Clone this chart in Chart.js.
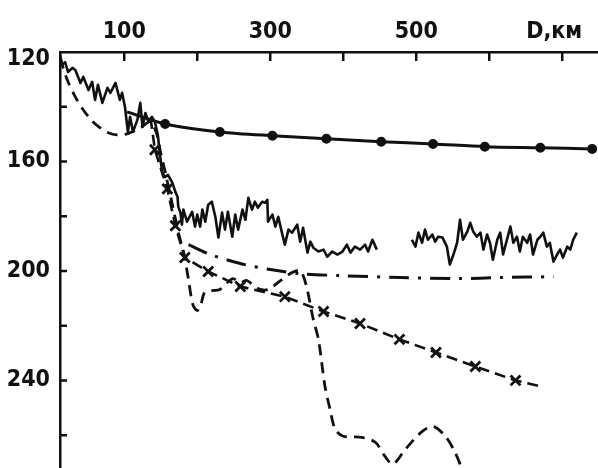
<!DOCTYPE html>
<html>
<head>
<meta charset="utf-8">
<script src="https://cdn.jsdelivr.net/npm/chart.js@4.4.0/dist/chart.umd.min.js"></script>
<style>
    html, body { margin: 0; padding: 0; background: #fff; }
    #grafica { display: block; }
</style>
</head>
<body>
<canvas id="grafica" width="598" height="468"></canvas>
<script>
const ticksD = [100, 200, 300, 400, 500, 600, 700];
const etiquetasD = [100, 300, 500];
const ticksV = [120, 140, 160, 180, 200, 220, 240, 260];
const etiquetasV = [120, 160, 200, 240];
const tituloD = 'D,км';

// curva suave con puntos
const suaveD = [104, 156, 231, 303, 377, 452, 523, 594, 670, 741];
const suaveV = [141.9, 146.3, 149.2, 150.6, 151.7, 152.8, 153.6, 154.6, 155.0, 155.4];

// registro ruidoso, primer tramo
const ruido1D = [12, 15, 19, 23, 29, 33, 40, 44, 51, 56, 60, 64, 70, 77, 81, 88, 94, 97, 101, 105,
    108, 112, 118, 122, 125, 129, 133, 138, 142, 146, 149, 152, 156, 160, 166, 170, 173, 174, 177, 179,
    181, 186, 193, 197, 200, 204, 207, 211, 215, 220, 225, 229, 234, 238, 242, 248, 252, 256, 262, 266,
    270, 275, 279, 283, 289, 293, 296, 297, 303, 307, 311, 316, 320, 325, 330, 337, 341, 345, 351, 355,
    359, 366, 373, 378, 385, 392, 399, 405, 410, 416, 423, 430, 434, 440, 446];
const ruido1V = [121.1, 124.7, 123.7, 127.3, 125.8, 126.6, 131.3, 129.1, 133.9, 130.9, 137.5, 132.0, 138.6, 133.1, 134.9, 131.3, 137.5, 134.9, 140.1, 149.2,
    143.7, 149.2, 144.8, 138.6, 147.4, 142.3, 145.5, 143.7, 145.5, 150.3, 157.6, 164.1, 165.6, 164.9, 167.8, 171.1, 172.9, 176.5, 178.7, 183.1,
    177.6, 182.0, 178.4, 183.8, 179.4, 183.8, 177.6, 182.0, 175.8, 174.7, 180.5, 187.8, 178.7, 184.9, 178.4, 187.5, 179.4, 184.9, 177.6, 181.3,
    173.3, 177.6, 174.7, 176.9, 174.7, 175.1, 174.0, 182.0, 179.4, 183.8, 180.2, 186.0, 190.4, 184.9, 186.0, 183.1, 189.3, 184.2, 193.3, 189.3,
    191.5, 192.9, 192.2, 194.8, 192.9, 194.0, 192.9, 190.4, 193.3, 191.1, 192.2, 190.4, 192.9, 188.6, 192.2];

// registro ruidoso, segundo tramo
const ruido2D = [494, 499, 503, 508, 512, 516, 522, 526, 530, 536, 542, 546, 551, 556, 560, 564, 570, 574, 578, 583,
    588, 592, 597, 601, 605, 611, 615, 619, 625, 629, 633, 638, 642, 646, 652, 656, 660, 666, 670, 674,
    679, 683, 688, 693, 697, 701, 707, 711, 715, 720];
const ruido2V = [188.6, 191.1, 186.0, 189.7, 184.9, 188.6, 186.7, 189.3, 187.5, 187.8, 191.1, 197.7, 194.0, 189.7, 181.3, 188.6, 185.6, 182.4, 185.6, 187.5,
    186.0, 192.2, 186.7, 189.7, 195.9, 188.6, 186.0, 194.0, 187.8, 183.8, 189.7, 187.5, 192.9, 187.5, 189.7, 186.7, 194.0, 188.6, 187.5, 186.0,
    191.1, 189.7, 196.6, 194.0, 192.2, 195.1, 191.1, 192.2, 188.6, 186.0];

// linea de trazos
const trazosD = [12, 22, 33, 44, 56, 67, 78, 90, 104, 122, 136, 145, 149, 157, 166, 174, 182, 188, 194, 200,
    205, 210, 220, 231, 241, 249, 259, 268, 283, 297, 314, 330, 341, 349, 359, 366, 375, 382, 389, 400,
    425, 444, 457, 468, 485, 507, 523, 540, 553, 564];
const trazosV = [122.2, 130.2, 136.4, 141.2, 145.2, 147.7, 149.5, 150.3, 149.9, 147.7, 145.5, 150.3, 155.7, 164.9, 175.8, 185.7, 194.0, 203.2, 212.3, 214.5,
    212.3, 207.9, 207.2, 206.8, 204.3, 202.8, 204.3, 203.5, 206.4, 206.8, 203.5, 200.6, 199.9, 205.0, 217.7, 225.0, 242.2, 250.6, 257.9, 260.4,
    260.8, 262.6, 267.7, 270.6, 265.2, 258.9, 256.8, 260.4, 266.2, 273.2];

// trazos con cruces
const crucesD = [136, 142, 159, 170, 183, 215, 259, 320, 373, 423, 477, 527, 581, 636, 671];
const crucesV = [144.1, 155.7, 170.0, 183.5, 195.1, 200.2, 205.7, 209.4, 214.8, 219.2, 225.0, 229.8, 234.9, 240.0, 242.2];

// raya y punto
const rayaPuntoD = [188, 218, 259, 300, 341, 396, 478, 560, 615, 688];
const rayaPuntoV = [190.4, 194.0, 197.3, 199.5, 201.0, 201.7, 202.4, 202.8, 202.4, 202.1];

const tinta = '#111';
const fuente = "'DejaVu Sans Condensed', 'DejaVu Sans', sans-serif";
const pares = (xs, ys) => xs.map((x, i) => ({ x: x, y: ys[i] }));

// marcas hacia dentro y titulo del eje D
const marcas = {
    id: 'marcas',
    afterDraw(chart) {
        const { ctx, scales: { x, y } } = chart;
        ctx.save();
        ctx.strokeStyle = tinta;
        ctx.lineWidth = 2.5;
        ctx.beginPath();
        ticksD.forEach(d => {
            const px = x.getPixelForValue(d);
            ctx.moveTo(px, y.top);
            ctx.lineTo(px, y.top + 9);
        });
        ticksV.slice(1).forEach(v => {
            const py = y.getPixelForValue(v);
            ctx.moveTo(x.left, py);
            ctx.lineTo(x.left + 7, py);
        });
        ctx.stroke();
        ctx.fillStyle = tinta;
        ctx.font = 'bold 23px ' + fuente;
        ctx.textAlign = 'center';
        ctx.textBaseline = 'alphabetic';
        ctx.fillText(tituloD, x.getPixelForValue(689), 38);
        ctx.restore();
    }
};

const ctx = document.getElementById('grafica').getContext('2d');
new Chart(ctx, {
    type: 'line',
    data: {
        datasets: [
            {
                data: pares(ruido1D, ruido1V),
                borderColor: tinta, borderWidth: 2.6, pointRadius: 0,
                borderJoinStyle: 'round', tension: 0
            },
            {
                data: pares(ruido2D, ruido2V),
                borderColor: tinta, borderWidth: 2.6, pointRadius: 0,
                borderJoinStyle: 'round', tension: 0
            },
            {
                data: pares(suaveD, suaveV),
                borderColor: tinta, borderWidth: 3, tension: 0.3,
                pointRadius: suaveD.map((_, i) => i === 0 ? 0 : 3.5),
                pointBackgroundColor: tinta, pointBorderColor: tinta
            },
            {
                data: pares(crucesD, crucesV),
                borderColor: tinta, borderWidth: 2.6, borderDash: [11, 6], tension: 0,
                pointStyle: 'crossRot',
                pointRadius: crucesD.map((_, i) => (i === 0 || i === crucesD.length - 1) ? 0 : 7),
                pointBorderWidth: 2.8, pointBorderColor: tinta
            },
            {
                data: pares(trazosD, trazosV),
                borderColor: tinta, borderWidth: 2.8, borderDash: [11, 7], tension: 0.3,
                pointRadius: 0
            },
            {
                data: pares(rayaPuntoD, rayaPuntoV),
                borderColor: tinta, borderWidth: 3, borderDash: [20, 9, 3, 9], tension: 0.3,
                pointRadius: 0
            }
        ]
    },
    options: {
        responsive: false,
        animation: false,
        layout: { padding: 0, autoPadding: false },
        plugins: { legend: { display: false }, tooltip: { enabled: false } },
        scales: {
            x: {
                type: 'linear',
                position: 'top',
                min: 12,
                max: 749,
                afterBuildTicks: scale => { scale.ticks = ticksD.map(v => ({ value: v })); },
                afterFit: scale => {
                    scale.height = 52;
                    scale.paddingLeft = 0;
                    scale.paddingRight = 0;
                },
                grid: { drawOnChartArea: false, drawTicks: false },
                border: { display: true, color: tinta, width: 2.5 },
                ticks: {
                    autoSkip: false,
                    maxRotation: 0,
                    padding: 6,
                    color: tinta,
                    font: { family: fuente, size: 23, weight: 'bold' },
                    callback: v => etiquetasD.includes(v) ? String(v) : ''
                }
            },
            y: {
                type: 'linear',
                reverse: true,
                min: 120,
                max: 272,
                afterBuildTicks: scale => { scale.ticks = ticksV.map(v => ({ value: v })); },
                afterFit: scale => {
                    scale.width = 60;
                    scale.paddingTop = 0;
                    scale.paddingBottom = 0;
                },
                grid: { drawOnChartArea: false, drawTicks: false },
                border: { display: true, color: tinta, width: 2.5 },
                ticks: {
                    autoSkip: false,
                    padding: 10,
                    color: tinta,
                    font: { family: fuente, size: 23, weight: 'bold', lineHeight: 0.6 },
                    callback: v => {
                        if (!etiquetasV.includes(v)) return '';
                        return v === 120 ? ['', String(v)] : String(v);
                    }
                }
            }
        }
    },
    plugins: [marcas]
});
</script>
</body>
</html>
